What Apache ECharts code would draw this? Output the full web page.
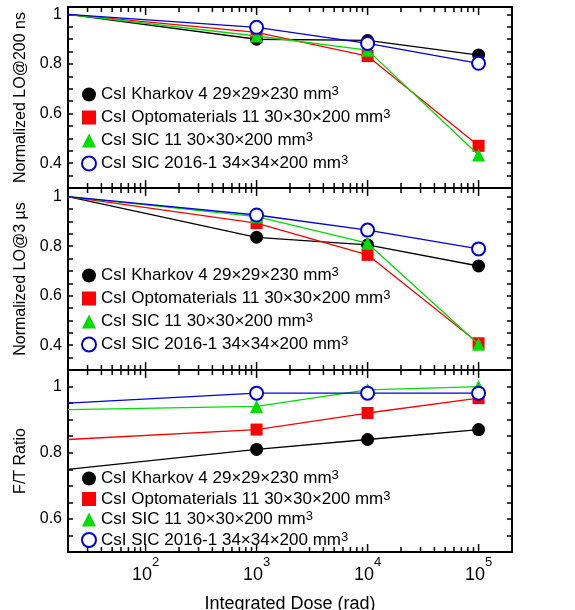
<!DOCTYPE html>
<html>
<head>
<meta charset="utf-8">
<title>CsI light output vs integrated dose</title>
<script src="https://cdn.jsdelivr.net/npm/echarts@6/dist/echarts.min.js"></script>
<style>
  html, body { margin: 0; padding: 0; background: #fff; }
  #chart { width: 575px; height: 610px; }
</style>
</head>
<body>
<div id="chart"></div>
<script>
// Integrated dose (rad); the first entry is the un-irradiated reference point
const doses = [20, 1e3, 1e4, 1e5];

const crystalNames = [
  'CsI Kharkov 4 29×29×230 mm³',
  'CsI Optomaterials 11 30×30×200 mm³',
  'CsI SIC 11 30×30×200 mm³',
  'CsI SIC 2016-1 34×34×200 mm³'
];

// Normalized light output, 200 ns gate
const lo200Kharkov = [1, 0.90, 0.895, 0.836];
const lo200Opto    = [1, 0.928, 0.832, 0.47];
const lo200Sic11   = [1, 0.913, 0.856, 0.433];
const lo200Sic2016 = [1, 0.948, 0.883, 0.803];

// Normalized light output, 3 µs gate
const lo3usKharkov = [1, 0.836, 0.805, 0.72];
const lo3usOpto    = [1, 0.893, 0.765, 0.408];
const lo3usSic11   = [1, 0.919, 0.812, 0.404];
const lo3usSic2016 = [1, 0.926, 0.865, 0.789];

// Fast / total ratio
const ftKharkov = [0.75, 0.81, 0.84, 0.87];
const ftOpto    = [0.84, 0.87, 0.92, 0.965];
const ftSic11   = [0.93, 0.94, 0.99, 1.0];
const ftSic2016 = [0.95, 0.98, 0.98, 0.98];

const yTitles = ['Normalized LO@200 ns', 'Normalized LO@3 µs', 'F/T Ratio'];
const xTitle = 'Integrated Dose (rad)';

// Log-axis tick positions: decades are major, 2..9 × decade are minor
const doseMajorTicks = [100, 1000, 10000, 100000];
const doseMinorTicks = [];
[10, 100, 1000, 10000].forEach(d => {
  for (let m = 2; m <= 9; m++) {
    if (m * d > 20) doseMinorTicks.push(m * d);
  }
});

// ---- layout and styling ----
const FONT = '"Liberation Sans", Arial, Helvetica, sans-serif';
const panelLayout = [
  { top: 7,   height: 181, min: 0.3, max: 1.03,  legendTop: 85,  legendGap: 4 },
  { top: 188, height: 182, min: 0.3, max: 1.035, legendTop: 266, legendGap: 4 },
  { top: 370, height: 182, min: 0.5, max: 1.05,  legendTop: 469, legendGap: 1.5 }
];
const panelData = [
  [lo200Kharkov, lo200Opto, lo200Sic11, lo200Sic2016],
  [lo3usKharkov, lo3usOpto, lo3usSic11, lo3usSic2016],
  [ftKharkov, ftOpto, ftSic11, ftSic2016]
];
const markStyles = [
  { color: '#000000', symbol: 'circle',      size: 13, icon: 'circle' },
  { color: '#ff0000', symbol: 'rect',        size: 12, icon: 'rect' },
  { color: '#00dd00', symbol: 'triangle',    size: 13, icon: 'triangle' },
  { color: '#0000dd', symbol: 'emptyCircle', size: 13, icon: 'emptyCircle' }
];

const GRID_LEFT = 68, GRID_WIDTH = 444;
const MAJOR_TICK = 8, MINOR_TICK = 5;

function isDecade(v) {
  const l = Math.log10(v);
  return Math.abs(l - Math.round(l)) < 1e-9;
}

const grid = [], xAxis = [], yAxis = [], series = [], legend = [];

panelLayout.forEach((p, gi) => {
  grid.push({
    left: GRID_LEFT, width: GRID_WIDTH, top: p.top, height: p.height,
    outerBoundsMode: 'none', containLabel: false,
    show: true, borderColor: '#000', borderWidth: 2, backgroundColor: 'transparent'
  });

  const isBottom = gi === panelLayout.length - 1;
  xAxis.push({
    type: 'log', logBase: 10, gridIndex: gi, min: 20, max: 200000,
    axisLine: { show: false }, axisTick: { show: false }, splitLine: { show: false },
    minorTick: { show: false }, minorSplitLine: { show: false },
    axisLabel: {
      show: isBottom, margin: 4, hideOverlap: false,
      fontFamily: FONT, fontSize: 18, color: '#000', lineHeight: 38,
      formatter: v => isDecade(v) ? '10{sup|' + Math.round(Math.log10(v)) + '}' : '',
      rich: { sup: { fontFamily: FONT, fontSize: 13, lineHeight: 13, verticalAlign: 'top', color: '#000' } }
    },
    name: isBottom ? xTitle : '',
    nameLocation: 'middle', nameGap: 15,
    nameTextStyle: { fontFamily: FONT, fontSize: 18, color: '#000' }
  });

  const yCommon = {
    type: 'value', gridIndex: gi, min: p.min, max: p.max, interval: 0.05,
    axisLine: { show: false }, splitLine: { show: false },
    axisTick: { show: true, inside: true, length: 5, lineStyle: { color: '#000', width: 1.5 } }
  };
  yAxis.push(Object.assign({}, yCommon, {
    position: 'left',
    axisLabel: {
      margin: 6, fontFamily: FONT, fontSize: 16, color: '#000',
      formatter: v => (Math.abs(v * 5 - Math.round(v * 5)) < 1e-6 && v < 1.001)
        ? (Math.abs(v - 1) < 1e-6 ? '1' : v.toFixed(1)) : ''
    },
    name: yTitles[gi], nameLocation: 'middle', nameGap: 34,
    nameTextStyle: { fontFamily: FONT, fontSize: 16, color: '#000' }
  }));
  yAxis.push(Object.assign({}, yCommon, {
    position: 'right', axisLabel: { show: false }
  }));

  panelData[gi].forEach((vals, si) => {
    const st = markStyles[si];
    series.push({
      type: 'line', name: crystalNames[si],
      xAxisIndex: gi, yAxisIndex: 2 * gi,
      symbol: st.symbol, symbolSize: st.size,
      lineStyle: { color: st.color, width: 1.3 },
      itemStyle: st.symbol === 'emptyCircle'
        ? { color: st.color, borderColor: st.color, borderWidth: 1.6 }
        : { color: st.color },
      data: doses.map((d, k) => k === 0 ? { value: [d, vals[k]], symbol: 'none' } : [d, vals[k]]),
      z: 3 + si
    });
  });

  legend.push({
    orient: 'vertical', left: 81, top: p.legendTop, padding: 0,
    itemWidth: 14, itemHeight: 14, itemGap: p.legendGap,
    selectedMode: false,
    data: crystalNames.map((n, si) => ({ name: n, icon: markStyles[si].icon })),
    formatter: n => n.replace('³', '{sup|3}'),
    textStyle: {
      fontFamily: FONT, fontSize: 17, color: '#000', lineHeight: 19,
      rich: { sup: { fontFamily: FONT, fontSize: 13, lineHeight: 14, verticalAlign: 'top', color: '#000' } }
    }
  });
});

const chart = echarts.init(document.getElementById('chart'), null, { renderer: 'canvas' });
chart.setOption({
  animation: false,
  backgroundColor: '#fff',
  grid, xAxis, yAxis, series, legend
});

// Inward log-scale ticks on the top and bottom edge of every panel,
// placed through each panel's own x/y axes.
const tickElements = [];
panelLayout.forEach((p, gi) => {
  const finder = { xAxisIndex: gi, yAxisIndex: 2 * gi };
  doseMajorTicks.concat(doseMinorTicks).forEach(v => {
    const bottom = chart.convertToPixel(finder, [v, p.min]);
    const top = chart.convertToPixel(finder, [v, p.max]);
    if (!bottom || !top) return;
    const len = isDecade(v) ? MAJOR_TICK : MINOR_TICK;
    const style = { stroke: '#000', lineWidth: 1.5 };
    tickElements.push(
      { type: 'line', silent: true, z: 10, shape: { x1: bottom[0], y1: bottom[1], x2: bottom[0], y2: bottom[1] - len }, style },
      { type: 'line', silent: true, z: 10, shape: { x1: top[0], y1: top[1], x2: top[0], y2: top[1] + len }, style }
    );
  });
});
chart.setOption({ graphic: tickElements });
</script>
</body>
</html>
